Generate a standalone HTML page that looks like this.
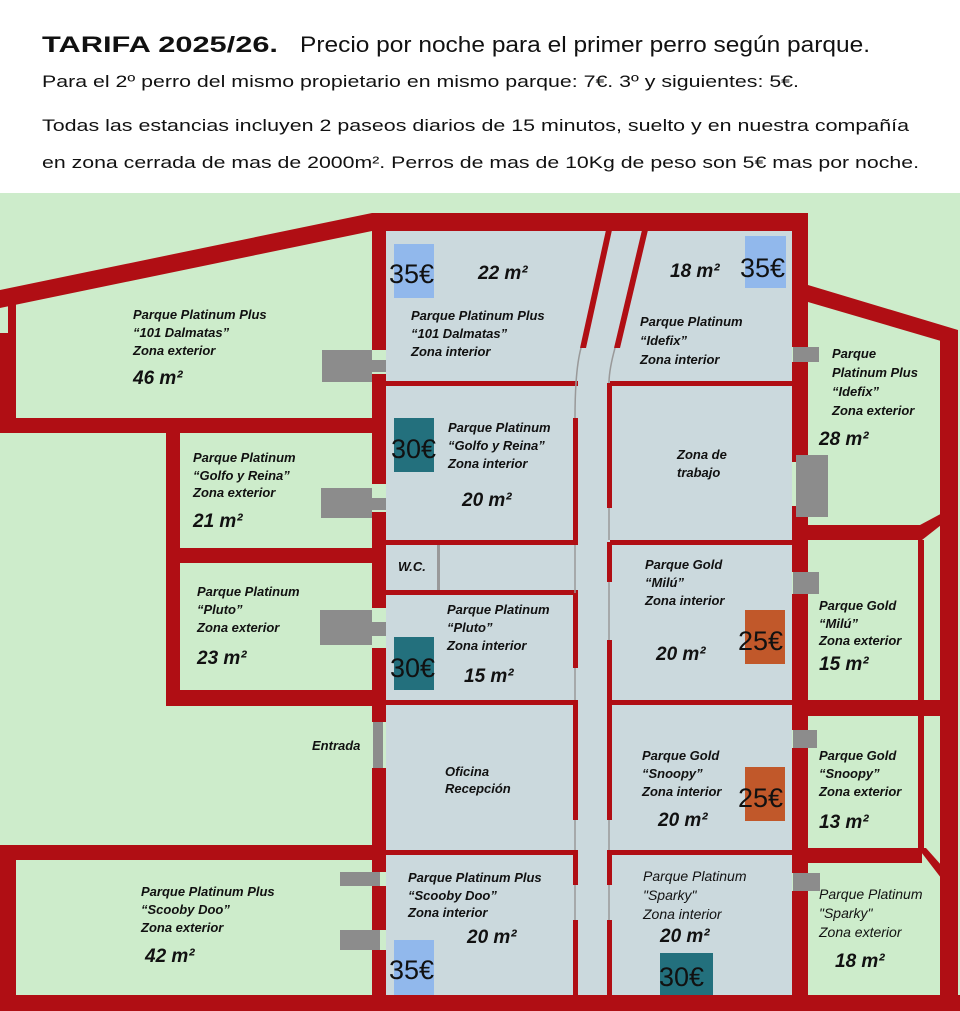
<!DOCTYPE html>
<html><head><meta charset="utf-8"><style>
html,body{margin:0;padding:0;background:#fff}
svg{display:block}
.h{font-family:"Liberation Sans",sans-serif;fill:#111}
.l{font-family:"Liberation Sans",sans-serif;font-style:italic;font-weight:bold;font-size:13px;fill:#111}
.m{font-family:"Liberation Sans",sans-serif;font-style:italic;font-weight:bold;font-size:19px;fill:#111}
.p{font-family:"Liberation Sans",sans-serif;font-size:27px;fill:#111}
</style></head><body>
<svg width="960" height="1011" viewBox="0 0 960 1011" xmlns="http://www.w3.org/2000/svg">
<rect width="960" height="1011" fill="#fff"/>
<text class="h" x="42" y="52" font-size="22" font-weight="bold" textLength="236" lengthAdjust="spacingAndGlyphs">TARIFA 2025/26.</text>
<text class="h" x="300" y="52" font-size="22" textLength="570" lengthAdjust="spacingAndGlyphs">Precio por noche para el primer perro según parque.</text>
<text class="h" x="42" y="87" font-size="17" textLength="757" lengthAdjust="spacingAndGlyphs">Para el 2º perro del mismo propietario en mismo parque: 7€. 3º y siguientes: 5€.</text>
<text class="h" x="42" y="131" font-size="17" textLength="867" lengthAdjust="spacingAndGlyphs">Todas las estancias incluyen 2 paseos diarios de 15 minutos, suelto y en nuestra compañía</text>
<text class="h" x="42" y="168" font-size="17" textLength="877" lengthAdjust="spacingAndGlyphs">en zona cerrada de mas de 2000m². Perros de mas de 10Kg de peso son 5€ mas por noche.</text>

<rect x="0" y="193" width="960" height="818" fill="#cdeccb"/>
<rect x="386" y="230" width="406" height="765" fill="#cbd9dd"/>

<g fill="#b00e14">
<rect x="372" y="213" width="436" height="18"/>
<rect x="372" y="213" width="14" height="137"/>
<rect x="372" y="374" width="14" height="110"/>
<rect x="372" y="512" width="14" height="96"/>
<rect x="372" y="648" width="14" height="74"/>
<rect x="372" y="768" width="14" height="104"/>
<rect x="372" y="886" width="14" height="44"/>
<rect x="372" y="950" width="14" height="50"/>
<rect x="792" y="213" width="16" height="134"/>
<rect x="792" y="362" width="16" height="100"/>
<rect x="792" y="506" width="16" height="66"/>
<rect x="792" y="594" width="16" height="136"/>
<rect x="792" y="748" width="16" height="125"/>
<rect x="792" y="891" width="16" height="110"/>
<rect x="0" y="995" width="960" height="16"/>
<polygon points="0,290 372,213 372,231 0,308"/>
<rect x="8" y="300" width="8" height="133"/>
<rect x="0" y="333" width="16" height="100"/>
<rect x="0" y="418" width="372" height="15"/>
<rect x="166" y="433" width="14" height="272"/>
<rect x="166" y="548" width="206" height="15"/>
<rect x="166" y="690" width="206" height="16"/>
<rect x="0" y="845" width="372" height="15"/>
<rect x="0" y="860" width="16" height="135"/>
<polygon points="808,285 958,330 958,346 808,302"/>
<rect x="940" y="330" width="18" height="670"/>
<rect x="808" y="525" width="114" height="15"/>
<polygon points="920,525 948,510 950,518 922,540"/>
<rect x="918" y="540" width="6" height="160"/>
<rect x="808" y="700" width="150" height="16"/>
<rect x="918" y="716" width="6" height="132"/>
<rect x="808" y="848" width="114" height="15"/>
<polygon points="918,848 926,848 958,884 958,900"/>
<rect x="386" y="381" width="192" height="5"/>
<rect x="610" y="381" width="182" height="5"/>
<rect x="386" y="540" width="192" height="5"/>
<rect x="610" y="540" width="182" height="5"/>
<rect x="386" y="590" width="192" height="5"/>
<rect x="386" y="700" width="192" height="5"/>
<rect x="610" y="700" width="182" height="5"/>
<rect x="386" y="850" width="192" height="5"/>
<rect x="610" y="850" width="182" height="5"/>
<rect x="573" y="418" width="5" height="127"/>
<rect x="607" y="383" width="5" height="125"/>
<rect x="607" y="542" width="5" height="40"/>
<rect x="573" y="593" width="5" height="75"/>
<rect x="607" y="640" width="5" height="60"/>
<rect x="573" y="700" width="5" height="120"/>
<rect x="607" y="700" width="5" height="120"/>
<rect x="573" y="850" width="5" height="35"/>
<rect x="607" y="850" width="5" height="35"/>
<rect x="573" y="920" width="5" height="78"/>
<rect x="607" y="920" width="5" height="78"/>
<polygon points="606,230 612,230 586,348 580,348"/>
<polygon points="642,230 648,230 620,348 614,348"/>
</g>
<g stroke="#999" stroke-width="1.5" fill="none">
<path d="M581,348 Q575,370 575,418"/><path d="M615,348 Q609,370 609,383"/>
<line x1="575" y1="545" x2="575" y2="593"/><line x1="609" y1="508" x2="609" y2="540"/>
<line x1="609" y1="582" x2="609" y2="640"/><line x1="575" y1="668" x2="575" y2="700"/>
<line x1="575" y1="820" x2="575" y2="850"/><line x1="609" y1="820" x2="609" y2="850"/>
<line x1="575" y1="885" x2="575" y2="920"/><line x1="609" y1="885" x2="609" y2="920"/>
</g>
<rect x="437" y="545" width="3" height="45" fill="#999"/>
<g fill="#8c8c8c">
<rect x="322" y="350" width="50" height="32"/><rect x="372" y="360" width="14" height="12"/>
<rect x="321" y="488" width="51" height="30"/><rect x="372" y="498" width="14" height="12"/>
<rect x="320" y="610" width="52" height="35"/><rect x="372" y="622" width="14" height="14"/>
<rect x="373" y="722" width="10" height="46"/>
<rect x="340" y="872" width="40" height="14"/>
<rect x="340" y="930" width="40" height="20"/>
<rect x="793" y="347" width="26" height="15"/>
<rect x="796" y="455" width="32" height="62"/>
<rect x="793" y="572" width="26" height="22"/>
<rect x="793" y="730" width="24" height="18"/>
<rect x="793" y="873" width="27" height="18"/>
</g>
<rect x="394" y="244" width="40" height="54" fill="#91b8ec"/>
<rect x="745" y="236" width="41" height="52" fill="#91b8ec"/>
<rect x="394" y="418" width="40" height="54" fill="#23707d"/>
<rect x="394" y="637" width="40" height="53" fill="#23707d"/>
<rect x="745" y="610" width="40" height="54" fill="#c1582a"/>
<rect x="745" y="767" width="40" height="54" fill="#c1582a"/>
<rect x="394" y="940" width="40" height="55" fill="#91b8ec"/>
<rect x="660" y="953" width="53" height="42" fill="#23707d"/>
<text class="p" x="389" y="283">35€</text>
<text class="p" x="740" y="277">35€</text>
<text class="p" x="391" y="458">30€</text>
<text class="p" x="390" y="677">30€</text>
<text class="p" x="738" y="650">25€</text>
<text class="p" x="738" y="807">25€</text>
<text class="p" x="389" y="979">35€</text>
<text class="p" x="659" y="986">30€</text>

<text class="l" x="133" y="319">Parque Platinum Plus</text>
<text class="l" x="133" y="337">“101 Dalmatas”</text>
<text class="l" x="133" y="355">Zona exterior</text>
<text class="m" x="133" y="384">46 m²</text>

<text class="m" x="478" y="279">22 m²</text>
<text class="l" x="411" y="320">Parque Platinum Plus</text>
<text class="l" x="411" y="338">“101 Dalmatas”</text>
<text class="l" x="411" y="356">Zona interior</text>

<text class="m" x="670" y="277">18 m²</text>
<text class="l" x="640" y="326">Parque Platinum</text>
<text class="l" x="640" y="345">“Idefix”</text>
<text class="l" x="640" y="364">Zona interior</text>

<text class="l" x="832" y="358">Parque</text>
<text class="l" x="832" y="377">Platinum Plus</text>
<text class="l" x="832" y="396">“Idefix”</text>
<text class="l" x="832" y="415">Zona exterior</text>
<text class="m" x="819" y="445">28 m²</text>

<text class="l" x="193" y="462">Parque Platinum</text>
<text class="l" x="193" y="480">“Golfo y Reina”</text>
<text class="l" x="193" y="497">Zona exterior</text>
<text class="m" x="193" y="527">21 m²</text>

<text class="l" x="448" y="432">Parque Platinum</text>
<text class="l" x="448" y="450">“Golfo y Reina”</text>
<text class="l" x="448" y="468">Zona interior</text>
<text class="m" x="462" y="506">20 m²</text>

<text class="l" x="677" y="459">Zona de</text>
<text class="l" x="677" y="477">trabajo</text>

<text class="l" x="398" y="571">W.C.</text>

<text class="l" x="645" y="569">Parque Gold</text>
<text class="l" x="645" y="587">“Milú”</text>
<text class="l" x="645" y="605">Zona interior</text>
<text class="m" x="656" y="660">20 m²</text>

<text class="l" x="819" y="610">Parque Gold</text>
<text class="l" x="819" y="628">“Milú”</text>
<text class="l" x="819" y="645">Zona exterior</text>
<text class="m" x="819" y="670">15 m²</text>

<text class="l" x="197" y="596">Parque Platinum</text>
<text class="l" x="197" y="614">“Pluto”</text>
<text class="l" x="197" y="632">Zona exterior</text>
<text class="m" x="197" y="664">23 m²</text>

<text class="l" x="447" y="614">Parque Platinum</text>
<text class="l" x="447" y="632">“Pluto”</text>
<text class="l" x="447" y="650">Zona interior</text>
<text class="m" x="464" y="682">15 m²</text>

<text class="l" x="312" y="750">Entrada</text>
<text class="l" x="445" y="776">Oficina</text>
<text class="l" x="445" y="793">Recepción</text>

<text class="l" x="642" y="760">Parque Gold</text>
<text class="l" x="642" y="778">“Snoopy”</text>
<text class="l" x="642" y="796">Zona interior</text>
<text class="m" x="658" y="826">20 m²</text>

<text class="l" x="819" y="760">Parque Gold</text>
<text class="l" x="819" y="778">“Snoopy”</text>
<text class="l" x="819" y="796">Zona exterior</text>
<text class="m" x="819" y="828">13 m²</text>

<text class="l" x="141" y="896">Parque Platinum Plus</text>
<text class="l" x="141" y="914">“Scooby Doo”</text>
<text class="l" x="141" y="932">Zona exterior</text>
<text class="m" x="145" y="962">42 m²</text>

<text class="l" x="408" y="882">Parque Platinum Plus</text>
<text class="l" x="408" y="900">“Scooby Doo”</text>
<text class="l" x="408" y="917">Zona interior</text>
<text class="m" x="467" y="943">20 m²</text>

<text class="h" x="643" y="881" font-size="14" font-style="italic">Parque Platinum</text>
<text class="h" x="643" y="900" font-size="14" font-style="italic">"Sparky"</text>
<text class="h" x="643" y="919" font-size="14" font-style="italic">Zona interior</text>
<text class="m" x="660" y="942">20 m²</text>

<text class="h" x="819" y="899" font-size="14" font-style="italic">Parque Platinum</text>
<text class="h" x="819" y="918" font-size="14" font-style="italic">"Sparky"</text>
<text class="h" x="819" y="937" font-size="14" font-style="italic">Zona exterior</text>
<text class="m" x="835" y="967">18 m²</text>
</svg>
</body></html>
